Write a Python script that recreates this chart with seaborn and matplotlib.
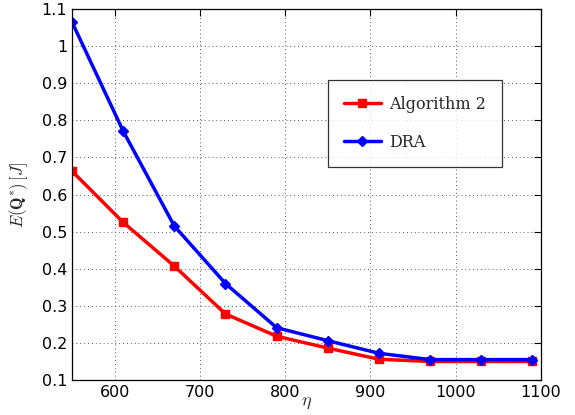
import matplotlib
matplotlib.use("Agg")
import matplotlib.pyplot as plt
import seaborn as sns
import pandas as pd

eta = [550, 610, 670, 730, 790, 850, 910, 970, 1030, 1090]
alg2 = [0.663, 0.525, 0.407, 0.278, 0.218, 0.186, 0.156, 0.150, 0.150, 0.150]
dra = [1.065, 0.771, 0.515, 0.360, 0.241, 0.206, 0.172, 0.155, 0.155, 0.155]
series_names = ["Algorithm 2", "DRA"]
xticks = [600, 700, 800, 900, 1000, 1100]
yticks = [0.1, 0.2, 0.3, 0.4, 0.5, 0.6, 0.7, 0.8, 0.9, 1.0, 1.1]

sns.set_style("white")
plt.rcParams["font.family"] = ["DejaVu Sans"]
plt.rcParams["mathtext.fontset"] = "cm"

df = pd.DataFrame({
    "eta": eta * 2,
    "E": alg2 + dra,
    "series": [series_names[0]] * len(eta) + [series_names[1]] * len(eta),
})

fig = plt.figure(figsize=(5.75, 4.15), dpi=100)
ax = fig.add_axes([0.1252, 0.0843, 0.8157, 0.894])

sns.lineplot(data=df, x="eta", y="E", hue="series", style="series",
             palette={"Algorithm 2": "#ff0000", "DRA": "#0000ff"},
             markers={"Algorithm 2": "s", "DRA": "D"},
             dashes=False, linewidth=2.5, markersize=5.5,
             markeredgewidth=1.0, ax=ax)
for line in ax.get_lines():
    line.set_markeredgecolor(line.get_color())

ax.set_xlim(550, 1100)
ax.set_ylim(0.1, 1.1)
ax.set_xticks(xticks)
ax.set_yticks(yticks)
ax.set_yticklabels(["0.1", "0.2", "0.3", "0.4", "0.5", "0.6", "0.7", "0.8", "0.9", "1", "1.1"])
ax.tick_params(direction="in", top=True, right=True, length=5, width=0.8, labelsize=11.5, colors="black")
ax.grid(True, linestyle=(0, (1, 3)), color="#555555", linewidth=0.7)
for s in ax.spines.values():
    s.set_color("black")
    s.set_linewidth(0.9)

ax.set_xlabel(r"$\eta$", fontsize=13, labelpad=-5)
ax.set_ylabel(r"$E(\mathbf{Q}^{*})\,[J]$", fontsize=12, labelpad=8)

handles, labels = ax.get_legend_handles_labels()
leg = ax.legend(handles, labels, loc="upper left", bbox_to_anchor=(0.546, 0.809),
                borderaxespad=0.0,
                frameon=True, fancybox=False, edgecolor="black",
                prop={"family": "DejaVu Serif", "size": 11.5},
                handlelength=2.3, borderpad=1.0, labelspacing=1.3, handletextpad=0.5)
leg.get_frame().set_linewidth(0.9)

fig.savefig("out.png", dpi=100)
